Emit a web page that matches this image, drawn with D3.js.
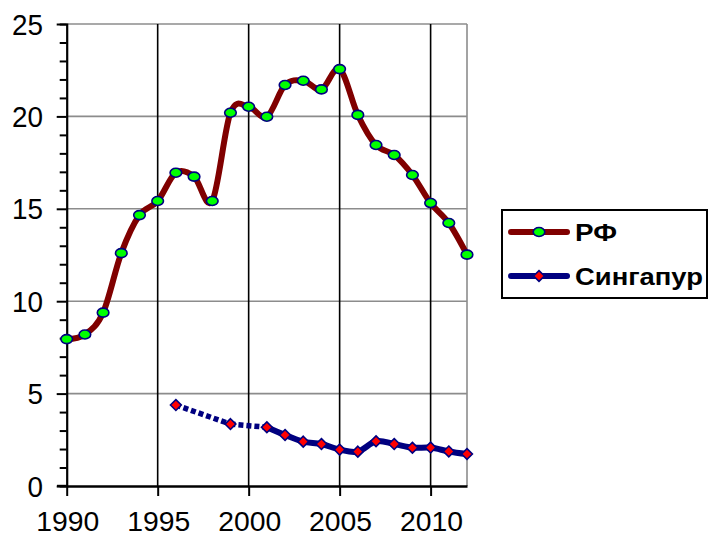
<!DOCTYPE html>
<html>
<head>
<meta charset="utf-8">
<script src="https://cdn.jsdelivr.net/npm/d3@7"></script>
<style>
  body { margin: 0; background: #fff; }
  svg { display: block; font-family: Arial, "Liberation Sans", sans-serif; }
</style>
</head>
<body>
<svg id="chart" width="708" height="535"></svg>
<script>
const years = [1990, 1991, 1992, 1993, 1994, 1995, 1996, 1997, 1998, 1999, 2000, 2001,
  2002, 2003, 2004, 2005, 2006, 2007, 2008, 2009, 2010, 2011, 2012];
const rfValues = [7.95, 8.2, 9.38, 12.6, 14.66, 15.42, 16.95, 16.74, 15.42, 20.2, 20.52, 19.98,
  21.7, 21.93, 21.46, 22.56, 20.08, 18.45, 17.91, 16.83, 15.31, 14.23, 12.52];
const sgValues = [null, null, null, null, null, null, 4.38, null, null, 3.35, null, 3.18,
  2.76, 2.40, 2.27, 1.97, 1.86, 2.42, 2.27, 2.07, 2.08, 1.87, 1.73];
const seriesNames = ['РФ', 'Сингапур'];
const yTicks = [0, 5, 10, 15, 20, 25];
const xTicks = [1990, 1995, 2000, 2005, 2010];

function drawChart() {
  const svg = d3.select('svg#chart');
  const left = 66.7, right = 467, top = 24, bottom = 486;

  const x = d3.scaleLinear().domain([1990, 2012]).range([left, right]);
  const y = d3.scaleLinear().domain([0, 25]).range([bottom, top]);

  // horizontal grid (gray)
  svg.append('g').selectAll('line').data(yTicks.filter((d) => d > 0)).enter()
    .append('line')
    .attr('x1', left).attr('x2', right)
    .attr('y1', (d) => y(d)).attr('y2', (d) => y(d))
    .attr('stroke', '#8c8c8c').attr('stroke-width', 1.6);

  // right border
  svg.append('line')
    .attr('x1', right).attr('x2', right).attr('y1', top).attr('y2', bottom)
    .attr('stroke', '#8c8c8c').attr('stroke-width', 1.6);

  // vertical grid (black)
  svg.append('g').selectAll('line').data(xTicks.filter((d) => d > 1990)).enter()
    .append('line')
    .attr('x1', (d) => x(d)).attr('x2', (d) => x(d))
    .attr('y1', top).attr('y2', bottom)
    .attr('stroke', '#000').attr('stroke-width', 1.6);

  // y axis with minor ticks
  const yAxis = svg.append('g').attr('transform', `translate(${left},0)`)
    .call(d3.axisLeft(y).tickValues(d3.range(0, 26, 1)).tickSize(7).tickFormat(''));
  yAxis.select('.domain').attr('stroke-width', 2.2);
  yAxis.selectAll('.tick line').attr('stroke-width', 2)
    .attr('x2', (d) => (d % 5 === 0 ? -10 : -7));
  svg.append('g').selectAll('text').data(yTicks).enter()
    .append('text')
    .attr('x', 43).attr('y', (d) => y(d) + 10.5)
    .attr('text-anchor', 'end')
    .attr('font-size', 29)
    .attr('textLength', (d) => (d >= 10 ? 31 : 15.5))
    .attr('lengthAdjust', 'spacingAndGlyphs')
    .text((d) => d);

  // x axis
  const xAxis = svg.append('g').attr('transform', `translate(0,${bottom})`)
    .call(d3.axisBottom(x).tickValues(xTicks).tickSize(10).tickSizeOuter(0).tickFormat(''));
  xAxis.select('.domain').attr('stroke-width', 2.4);
  xAxis.selectAll('.tick line').attr('stroke-width', 2);
  svg.append('line')
    .attr('x1', 57).attr('x2', left).attr('y1', bottom).attr('y2', bottom)
    .attr('stroke', '#000').attr('stroke-width', 2.4);
  svg.append('g').selectAll('text').data(xTicks).enter()
    .append('text')
    .attr('x', (d) => x(d) + 1).attr('y', 530.5)
    .attr('text-anchor', 'middle')
    .attr('font-size', 27)
    .attr('textLength', 63).attr('lengthAdjust', 'spacingAndGlyphs')
    .text((d) => d);

  const curve = d3.curveCardinal.tension(0);

  // РФ
  const rf = years.map((yr, i) => ({year: yr, value: rfValues[i]}));
  svg.append('path')
    .attr('d', d3.line().x((d) => x(d.year)).y((d) => y(d.value)).curve(curve)(rf))
    .attr('fill', 'none').attr('stroke', '#800000').attr('stroke-width', 6)
    .attr('stroke-linejoin', 'round').attr('stroke-linecap', 'round');

  // Сингапур: dotted across gaps, solid where consecutive
  const sg = years.map((yr, i) => ({year: yr, value: sgValues[i]}))
    .filter((d) => d.value !== null);
  const dotted = [];
  let solid = [];
  const solidRuns = [];
  for (let i = 0; i < sg.length; i++) {
    if (i > 0 && sg[i].year - sg[i - 1].year > 1) dotted.push([sg[i - 1], sg[i]]);
    if (i > 0 && sg[i].year - sg[i - 1].year === 1) {
      if (solid.length === 0) solid.push(sg[i - 1]);
      solid.push(sg[i]);
    } else if (solid.length) {
      solidRuns.push(solid);
      solid = [];
    }
  }
  if (solid.length) solidRuns.push(solid);

  const sgLine = d3.line().x((d) => x(d.year)).y((d) => y(d.value));
  svg.append('g').selectAll('path').data(dotted).enter()
    .append('path')
    .attr('d', (d) => sgLine(d))
    .attr('fill', 'none').attr('stroke', '#000080').attr('stroke-width', 5.5)
    .attr('stroke-dasharray', '5,3');
  svg.append('g').selectAll('path').data(solidRuns).enter()
    .append('path')
    .attr('d', (d) => sgLine.curve(curve)(d))
    .attr('fill', 'none').attr('stroke', '#000080').attr('stroke-width', 6)
    .attr('stroke-linejoin', 'round').attr('stroke-linecap', 'round');

  // markers
  svg.append('g').selectAll('ellipse').data(rf).enter()
    .append('ellipse')
    .attr('cx', (d) => x(d.year)).attr('cy', (d) => y(d.value))
    .attr('rx', 5.8).attr('ry', 4.5)
    .attr('fill', '#00ff00').attr('stroke', '#000080').attr('stroke-width', 1.6);

  const diamond = 'M0,-5.4L5.4,0L0,5.4L-5.4,0Z';
  svg.append('g').selectAll('path').data(sg).enter()
    .append('path')
    .attr('d', diamond)
    .attr('transform', (d) => `translate(${x(d.year)},${y(d.value)})`)
    .attr('fill', '#ff0000').attr('stroke', '#000080').attr('stroke-width', 1.6);

  // legend
  const legend = svg.append('g');
  legend.append('rect')
    .attr('x', 502).attr('y', 210).attr('width', 205).attr('height', 88)
    .attr('fill', '#fff').attr('stroke', '#000').attr('stroke-width', 2);
  const legendRows = [
    {name: seriesNames[0], color: '#800000', y: 232, width: 42},
    {name: seriesNames[1], color: '#000080', y: 276, width: 128},
  ];
  legendRows.forEach((r, i) => {
    legend.append('line')
      .attr('x1', 511).attr('x2', 567).attr('y1', r.y).attr('y2', r.y)
      .attr('stroke', r.color).attr('stroke-width', 6).attr('stroke-linecap', 'round');
    if (i === 0) {
      legend.append('ellipse').attr('cx', 539).attr('cy', r.y).attr('rx', 5.8).attr('ry', 4.5)
        .attr('fill', '#00ff00').attr('stroke', '#000080').attr('stroke-width', 1.6);
    } else {
      legend.append('path').attr('d', diamond).attr('transform', `translate(539,${r.y})`)
        .attr('fill', '#ff0000').attr('stroke', '#000080').attr('stroke-width', 1.6);
    }
    legend.append('text')
      .attr('x', 575).attr('y', r.y + 9)
      .attr('font-size', 24).attr('font-weight', 'bold')
      .attr('textLength', r.width).attr('lengthAdjust', 'spacingAndGlyphs')
      .text(r.name);
  });
}

window.addEventListener('load', drawChart);
</script>
</body>
</html>
